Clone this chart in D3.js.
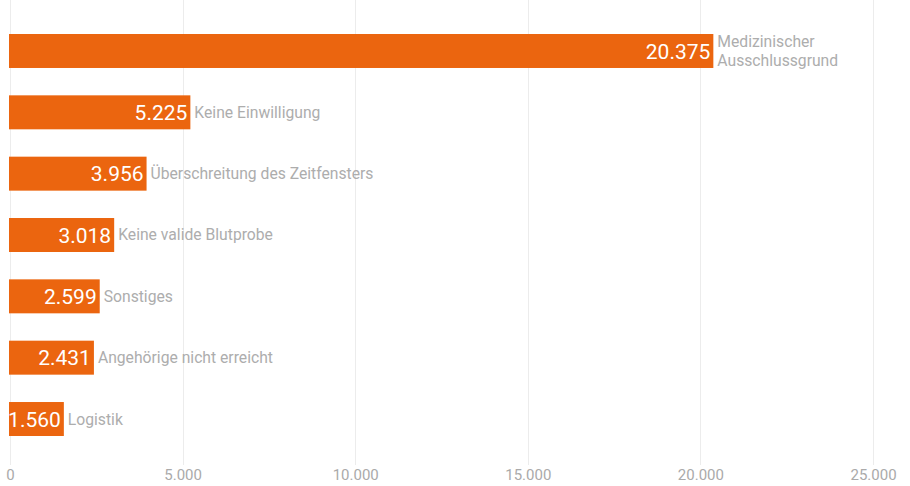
<!DOCTYPE html>
<html>
<head>
<meta charset="utf-8">
<script src="https://cdn.jsdelivr.net/npm/d3@7"></script>
<style>
  html, body { margin: 0; padding: 0; background: #fff; }
  svg { display: block; font-family: Roboto, "Noto Sans", sans-serif; }
</style>
</head>
<body>
<svg id="chart" width="910" height="486"></svg>
<script>
// Gründe für Nicht-Spende (Anzahl)
const categories = [
  ["Medizinischer", "Ausschlussgrund"],
  ["Keine Einwilligung"],
  ["Überschreitung des Zeitfensters"],
  ["Keine valide Blutprobe"],
  ["Sonstiges"],
  ["Angehörige nicht erreicht"],
  ["Logistik"]
];
const values = [20375, 5225, 3956, 3018, 2599, 2431, 1560];
const tickValues = [0, 5000, 10000, 15000, 20000, 25000];

const svg = d3.select("#chart");

const fmt = d3.formatLocale({ decimal: ",", thousands: ".", grouping: [3], currency: ["", " €"] }).format(",d");

const x = d3.scaleLinear().domain([0, 25000]).range([10, 873]);
const y = d3.scaleBand()
  .domain(d3.range(values.length))
  .range([34, 436])
  .paddingInner(0.446)
  .paddingOuter(0);

// vertical grid lines
svg.append("g")
  .selectAll("line")
  .data(tickValues)
  .join("line")
  .attr("x1", d => Math.round(x(d)) + 0.5)
  .attr("x2", d => Math.round(x(d)) + 0.5)
  .attr("y1", 0)
  .attr("y2", 465)
  .attr("stroke", "#ececec")
  .attr("stroke-width", 1);

// axis labels
const axis = d3.axisBottom(x).tickValues(tickValues).tickFormat(fmt).tickSize(0).tickPadding(0);
const gAxis = svg.append("g").attr("transform", "translate(0,469)").call(axis);
gAxis.select(".domain").remove();
gAxis.selectAll("text")
  .attr("dy", "0.71em")
  .attr("fill", "#aaaaaa")
  .style("font-size", "15px")
  .style("font-family", "Roboto, sans-serif");

// bars
const rows = svg.append("g")
  .selectAll("g")
  .data(values.map((v, i) => ({ v, i, label: categories[i] })))
  .join("g");

rows.append("rect")
  .attr("x", x(0) - 1)
  .attr("y", d => y(d.i))
  .attr("width", d => x(d.v) - x(0) + 1)
  .attr("height", y.bandwidth())
  .attr("fill", "#eb650f");

// value labels inside bar ends
rows.append("text")
  .attr("x", d => x(d.v) - 3)
  .attr("y", d => y(d.i) + y.bandwidth() / 2)
  .attr("dy", "0.36em")
  .attr("text-anchor", "end")
  .attr("fill", "#ffffff")
  .style("font-size", "21px")
  .text(d => fmt(d.v));

// category labels after bar ends, one text per line
const lineH = 18.5;
rows.each(function(d) {
  const g = d3.select(this);
  const n = d.label.length;
  const cy = y(d.i) + y.bandwidth() / 2;
  d.label.forEach((line, k) => {
    g.append("text")
      .attr("x", x(d.v) + 4)
      .attr("y", cy + (k - (n - 1) / 2) * lineH)
      .attr("dy", "0.35em")
      .attr("fill", "#adadad")
      .style("font-size", "15.7px")
      .text(line);
  });
});
</script>
</body>
</html>
